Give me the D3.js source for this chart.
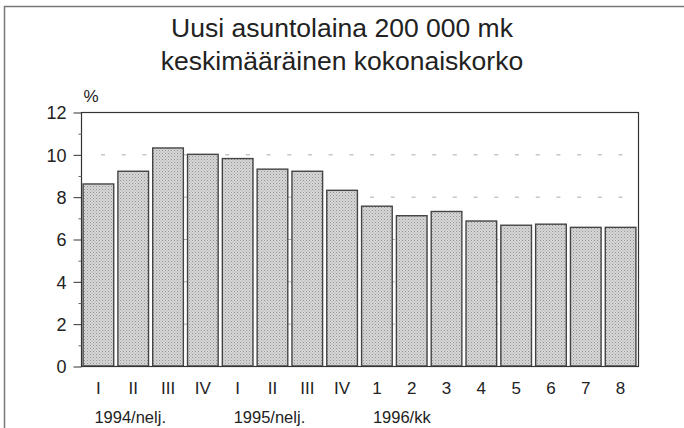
<!DOCTYPE html>
<html>
<head>
<meta charset="utf-8">
<script src="https://cdn.jsdelivr.net/npm/d3@7"></script>
<style>
  html, body { margin: 0; padding: 0; background: #fff; }
  svg { display: block; font-family: "Liberation Sans", Arial, Helvetica, sans-serif; }
</style>
</head>
<body>
<svg id="chart" width="684" height="428"></svg>
<script>
// ---- data ----
const categories = ["I","II","III","IV","I","II","III","IV","1","2","3","4","5","6","7","8"];
const values = [8.6, 9.2, 10.3, 10.0, 9.8, 9.3, 9.2, 8.3, 7.55, 7.1, 7.3, 6.85, 6.65, 6.7, 6.55, 6.55];
const groupLabels = ["1994/nelj.", "1995/nelj.", "1996/kk"];
const groupStarts = [0, 4, 8];
const yTicks = [0, 2, 4, 6, 8, 10, 12];
const yMinorTicks = [1, 3, 5, 7, 9, 11];
const titleLines = ["Uusi asuntolaina 200 000 mk", "keskimääräinen kokonaiskorko"];
const unitLabel = "%";

// ---- layout ----
const W = 684, H = 428;
const plot = { left: 81, right: 638, top: 112, bottom: 366 };

const svg = d3.select("#chart");

// pattern for stippled bars
const defs = svg.append("defs");
const pat = defs.append("pattern")
  .attr("id", "stipple").attr("patternUnits", "userSpaceOnUse")
  .attr("width", 3).attr("height", 3);
pat.append("rect").attr("width", 3).attr("height", 3).attr("fill", "#d6d6d6");
pat.append("rect").attr("x", 0).attr("y", 0).attr("width", 1).attr("height", 1).attr("fill", "#959595");
pat.append("rect").attr("x", 1.5).attr("y", 1.5).attr("width", 1).attr("height", 1).attr("fill", "#aaaaaa");

// outer frame
svg.append("path")
  .attr("d", `M4.5,${H + 5} V6.5 H${W + 5}`)
  .attr("fill", "none").attr("stroke", "#777").attr("stroke-width", 1.5);

// title
svg.append("g").selectAll("text").data(titleLines).join("text")
  .attr("x", 342).attr("y", (d, i) => 37 + i * 33)
  .attr("text-anchor", "middle")
  .attr("font-size", 26.5).attr("fill", "#222")
  .text(d => d);

// scales
const x = d3.scaleBand()
  .domain(d3.range(categories.length))
  .range([plot.left, plot.right])
  .paddingInner(0.12).paddingOuter(0.06);
const y = d3.scaleLinear().domain([0, 12]).range([plot.bottom, plot.top]);

// gridlines (dashed)
svg.append("g").selectAll("line").data(yTicks.filter(t => t > 0 && t < 12)).join("line")
  .attr("x1", plot.left + 20).attr("x2", plot.right)
  .attr("y1", d => y(d) + 0.5).attr("y2", d => y(d) + 0.5)
  .attr("stroke", "#aaa").attr("stroke-width", 1)
  .attr("stroke-dasharray", "4,16.7");

// bars
svg.append("g").selectAll("rect").data(values).join("rect")
  .attr("x", (d, i) => x(i))
  .attr("y", d => y(d))
  .attr("width", x.bandwidth())
  .attr("height", d => y(0) - y(d))
  .attr("fill", "url(#stipple)")
  .attr("stroke", "#444").attr("stroke-width", 1.4);

// plot frame
svg.append("rect")
  .attr("x", plot.left + 0.5).attr("y", plot.top + 0.5)
  .attr("width", plot.right - plot.left).attr("height", plot.bottom - plot.top)
  .attr("fill", "none").attr("stroke", "#333").attr("stroke-width", 1.2);

// y axis
const yAxis = d3.axisLeft(y).tickValues(yTicks).tickSize(8).tickPadding(7).tickFormat(d3.format("d"));
const ya = svg.append("g").attr("transform", `translate(${plot.left + 0.5},0.5)`).call(yAxis);
ya.select(".domain").remove();
ya.selectAll(".tick line").attr("stroke", "#333");
ya.selectAll(".tick text").attr("font-size", 18).attr("fill", "#222")
  .attr("font-family", "'Liberation Sans', Arial, sans-serif").attr("dy", "0.36em");

const yMinor = d3.axisLeft(y).tickValues(yMinorTicks).tickSize(3).tickFormat("");
const ym = svg.append("g").attr("transform", `translate(${plot.left + 0.5},0.5)`).call(yMinor);
ym.select(".domain").remove();
ym.selectAll(".tick line").attr("stroke", "#666");

// unit label
svg.append("text").attr("x", 91).attr("y", 102).attr("text-anchor", "middle")
  .attr("font-size", 17).attr("fill", "#222").text(unitLabel);

// x axis
const xAxis = d3.axisBottom(x).tickSize(0).tickPadding(16).tickFormat(i => categories[i]);
const xa = svg.append("g").attr("transform", `translate(0,${plot.bottom})`).call(xAxis);
xa.select(".domain").remove();
xa.selectAll(".tick text").attr("font-size", 17).attr("fill", "#222")
  .attr("font-family", "'Liberation Sans', Arial, sans-serif");

// group labels
svg.append("g").selectAll("text").data(groupLabels).join("text")
  .attr("x", (d, i) => x(groupStarts[i]) + x.bandwidth() / 2 - 4)
  .attr("y", 423)
  .attr("font-size", 16.5).attr("fill", "#222")
  .text(d => d);
</script>
</body>
</html>
